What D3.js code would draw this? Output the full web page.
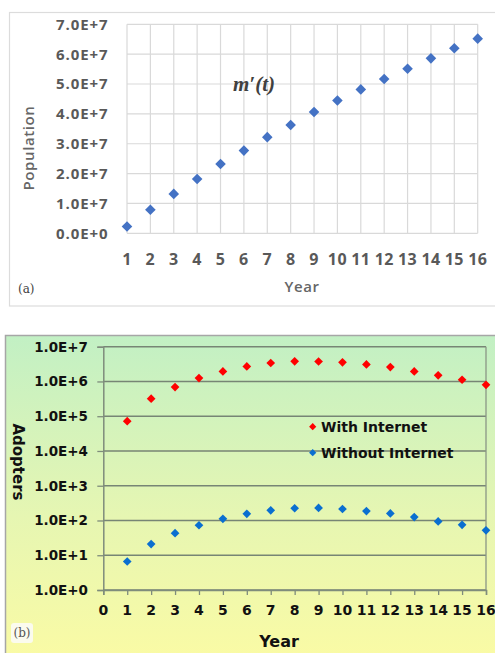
<!DOCTYPE html>
<html>
<head>
<meta charset="utf-8">
<script src="https://cdn.jsdelivr.net/npm/d3@7"></script>
<style>
  html, body { margin: 0; padding: 0; background: #ffffff; }
  svg { display: block; }
</style>
</head>
<body>
<svg id="chart" width="495" height="653"></svg>
<script>
// ---- data ----
const years = [1, 2, 3, 4, 5, 6, 7, 8, 9, 10, 11, 12, 13, 14, 15, 16];
// (a) population m'(t)
const population = [2.3e6, 7.9e6, 1.32e7, 1.82e7, 2.32e7, 2.77e7, 3.22e7, 3.63e7,
                    4.06e7, 4.45e7, 4.82e7, 5.17e7, 5.51e7, 5.86e7, 6.20e7, 6.52e7];
const populationTicks = [0, 1e7, 2e7, 3e7, 4e7, 5e7, 6e7, 7e7];
// (b) adopters, log scale
const withInternet = [7.2e4, 3.2e5, 6.9e5, 1.25e6, 1.95e6, 2.7e6, 3.4e6, 3.8e6,
                      3.75e6, 3.55e6, 3.1e6, 2.6e6, 1.95e6, 1.5e6, 1.12e6, 8.0e5];
const withoutInternet = [6.6, 21, 43, 73, 112, 156, 196, 225,
                         229, 214, 186, 160, 125, 94, 75, 52];
const adopterTicks = [1, 1e1, 1e2, 1e3, 1e4, 1e5, 1e6, 1e7];
const xTicksB = d3.range(0, 17);
const seriesNames = ["With Internet", "Without Internet"];

const svg = d3.select("#chart");
const fmtExp = v => {
  if (v === 0) return "0.0E+0";
  const e = Math.floor(Math.log10(v) + 1e-9);
  return (v / Math.pow(10, e)).toFixed(1) + "E+" + e;
};
const diamond = size => d3.symbol().type(d3.symbolSquare).size(size);

// ================= panel (a) =================
const gA = svg.append("g");
gA.append("rect")
  .attr("x", 9.5).attr("y", 12.5).attr("width", 500).attr("height", 293.5)
  .attr("fill", "#ffffff").attr("stroke", "#dcdcdc").attr("stroke-width", 1.2);

const xA = d3.scaleLinear().domain([1, 16]).range([127, 477.7]);
const yA = d3.scaleLinear().domain([0, 7e7]).range([233.3, 24.3]);

// grid
gA.append("g").selectAll("line.h").data(populationTicks).join("line")
  .attr("x1", xA(1)).attr("x2", xA(16))
  .attr("y1", d => yA(d)).attr("y2", d => yA(d))
  .attr("stroke", "#d9d9d9").attr("stroke-width", 1.2);
gA.append("g").selectAll("line.v").data(years).join("line")
  .attr("x1", d => xA(d)).attr("x2", d => xA(d))
  .attr("y1", yA(7e7)).attr("y2", yA(0))
  .attr("stroke", "#d9d9d9").attr("stroke-width", 1.2);

// y tick labels
gA.append("g").selectAll("text").data(populationTicks).join("text")
  .attr("x", 108.5).attr("y", d => yA(d)).attr("dy", "0.36em")
  .attr("text-anchor", "end")
  .attr("font-family", "'Open Sans', sans-serif").attr("font-weight", 700)
  .attr("font-size", 15).attr("letter-spacing", 0.9)
  .attr("fill", "#595959")
  .text(fmtExp);

// x tick labels
gA.append("g").selectAll("text").data(years).join("text")
  .attr("x", d => xA(d)).attr("y", 259).attr("dy", "0.36em")
  .attr("text-anchor", "middle")
  .attr("font-family", "'Open Sans', sans-serif").attr("font-weight", 700)
  .attr("font-size", 16).attr("letter-spacing", 0.4)
  .attr("fill", "#595959")
  .text(d => d);

// axis titles
gA.append("text")
  .attr("transform", "translate(29,148) rotate(-90)")
  .attr("dy", "0.36em").attr("text-anchor", "middle")
  .attr("font-family", "'Open Sans', sans-serif").attr("font-weight", 600)
  .attr("font-size", 15).attr("letter-spacing", 0.6)
  .attr("fill", "#666666").text("Population");
gA.append("text")
  .attr("x", 302).attr("y", 287).attr("dy", "0.36em").attr("text-anchor", "middle")
  .attr("font-family", "'Open Sans', sans-serif").attr("font-weight", 600)
  .attr("font-size", 15).attr("letter-spacing", 0.6)
  .attr("fill", "#666666").text("Year");
gA.append("text")
  .attr("x", 18).attr("y", 289).attr("dy", "0.36em")
  .attr("font-family", "'DejaVu Serif', serif")
  .attr("font-size", 12).attr("fill", "#404040").text("(a)");

// curve label
gA.append("text")
  .attr("x", 254).attr("y", 91).attr("text-anchor", "middle")
  .attr("font-family", "'Liberation Serif', serif").attr("font-style", "italic")
  .attr("font-weight", "bold").attr("font-size", 21)
  .attr("fill", "#404040").text("m\u2032(t)");

// points
gA.append("g").selectAll("path").data(years).join("path")
  .attr("transform", (d, i) => `translate(${xA(d)},${yA(population[i])}) rotate(45)`)
  .attr("d", diamond(56)())
  .attr("fill", "#4472c4");

// ================= panel (b) =================
const gB = svg.append("g");
const defs = svg.append("defs");
const grad = defs.append("linearGradient").attr("id", "bgB")
  .attr("x1", 0).attr("y1", 0).attr("x2", 0).attr("y2", 1);
grad.append("stop").attr("offset", "0%").attr("stop-color", "#c2f0c4");
grad.append("stop").attr("offset", "55%").attr("stop-color", "#e6f6b2");
grad.append("stop").attr("offset", "100%").attr("stop-color", "#fbfba4");

gB.append("rect")
  .attr("x", 5.5).attr("y", 335.5).attr("width", 500).attr("height", 330)
  .attr("fill", "url(#bgB)").attr("stroke", "#a6a6a6").attr("stroke-width", 1.5);

const xB = d3.scaleLinear().domain([0, 16]).range([103.3, 486]);
const yB = d3.scaleLog().domain([1, 1e7]).range([590, 346.7]);

// grid
gB.append("g").selectAll("line").data(adopterTicks).join("line")
  .attr("x1", xB(0)).attr("x2", xB(16))
  .attr("y1", d => yB(d)).attr("y2", d => yB(d))
  .attr("stroke", "#778575").attr("stroke-width", 1.4);
gB.append("line")
  .attr("x1", xB(16)).attr("x2", xB(16)).attr("y1", yB(1e7)).attr("y2", yB(1))
  .attr("stroke", "#8a9686").attr("stroke-width", 1.3);

// axes
const axL = d3.axisLeft(yB).tickValues(adopterTicks).tickSize(6).tickFormat("");
const axBt = d3.axisBottom(xB).tickValues(xTicksB).tickSize(5).tickFormat("");
const gyB = gB.append("g").attr("transform", `translate(${xB(0)},0)`).call(axL);
const gxB = gB.append("g").attr("transform", `translate(0,${yB(1)})`).call(axBt);
[gyB, gxB].forEach(g => {
  g.select(".domain").attr("stroke", "#7f8c7c").attr("stroke-width", 1.5);
  g.selectAll(".tick line").attr("stroke", "#7f8c7c").attr("stroke-width", 1.3);
});

gB.append("g").selectAll("text").data(adopterTicks).join("text")
  .attr("x", 88).attr("y", d => yB(d)).attr("dy", "0.36em")
  .attr("text-anchor", "end")
  .attr("font-family", "'DejaVu Sans', sans-serif").attr("font-weight", "bold")
  .attr("font-size", 13.5).attr("fill", "#111")
  .text(fmtExp);

gB.append("g").selectAll("text").data(xTicksB).join("text")
  .attr("x", d => xB(d)).attr("y", 610).attr("dy", "0.36em")
  .attr("text-anchor", "middle")
  .attr("font-family", "'DejaVu Sans', sans-serif").attr("font-weight", "bold")
  .attr("font-size", 14).attr("fill", "#111")
  .text(d => d);

gB.append("text")
  .attr("transform", "translate(18,462) rotate(90)")
  .attr("dy", "0.36em").attr("text-anchor", "middle")
  .attr("font-family", "'DejaVu Sans', sans-serif").attr("font-weight", "bold")
  .attr("font-size", 15).attr("fill", "#111").text("Adopters");
gB.append("text")
  .attr("x", 279).attr("y", 641).attr("dy", "0.36em").attr("text-anchor", "middle")
  .attr("font-family", "'DejaVu Sans', sans-serif").attr("font-weight", "bold")
  .attr("font-size", 16).attr("fill", "#111").text("Year");

gB.append("rect")
  .attr("x", 11).attr("y", 623).attr("width", 22).attr("height", 20).attr("rx", 3)
  .attr("fill", "#fbfbee");
gB.append("text")
  .attr("x", 22).attr("y", 633).attr("dy", "0.36em").attr("text-anchor", "middle")
  .attr("font-family", "'DejaVu Serif', serif")
  .attr("font-size", 12).attr("fill", "#555").text("(b)");

// points
const colors = ["#ff0000", "#0a6fd0"];
[withInternet, withoutInternet].forEach((vals, s) => {
  gB.append("g").selectAll("path").data(years).join("path")
    .attr("transform", (d, i) => `translate(${xB(d)},${yB(vals[i])}) rotate(45)`)
    .attr("d", diamond(38)())
    .attr("fill", colors[s]);
});

// legend
const legend = gB.append("g");
seriesNames.forEach((name, s) => {
  const y = 426.7 + s * 26;
  legend.append("path")
    .attr("transform", `translate(312.7,${y}) rotate(45)`)
    .attr("d", diamond(26)())
    .attr("fill", colors[s]);
  legend.append("text")
    .attr("x", 321).attr("y", y).attr("dy", "0.36em")
    .attr("font-family", "'DejaVu Sans', sans-serif").attr("font-weight", "bold")
    .attr("font-size", 14).attr("fill", "#111").text(name);
});
</script>
</body>
</html>
